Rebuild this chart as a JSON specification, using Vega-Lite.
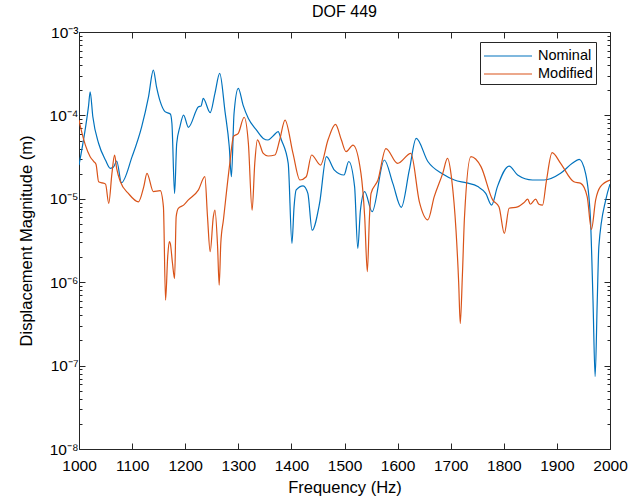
{
  "$schema": "https://vega.github.io/schema/vega-lite/v6.json",
  "width": 531,
  "height": 417,
  "autosize": {"type": "none"},
  "padding": {"left": 79, "top": 32, "right": 20, "bottom": 53},
  "background": "white",
  "title": {"text": "DOF 449", "font": "Liberation Sans", "fontSize": 16, "fontWeight": "normal", "color": "black", "offset": 5},
  "config": {
    "view": {"stroke": null},
    "axis": {"labelFont": "Liberation Sans", "titleFont": "Liberation Sans", "labelColor": "black", "titleColor": "black", "domainColor": "#262626", "tickColor": "#262626", "tickWidth": 1, "ticks": true, "grid": false, "labelFontSize": 15.5, "titleFontSize": 16.5, "titleFontWeight": "normal"}
  },
  "datasets": {
    "curves": [
      {"f": 1000, "v": 2.54e-5, "s": "Nominal"},
      {"f": 1012, "v": 7e-5, "s": "Nominal"},
      {"f": 1018, "v": 1.3e-4, "s": "Nominal"},
      {"f": 1021, "v": 1.92e-4, "s": "Nominal"},
      {"f": 1026, "v": 9.7e-5, "s": "Nominal"},
      {"f": 1037, "v": 4.6e-5, "s": "Nominal"},
      {"f": 1050, "v": 2.9e-5, "s": "Nominal"},
      {"f": 1059, "v": 2.32e-5, "s": "Nominal"},
      {"f": 1065, "v": 2.4e-5, "s": "Nominal"},
      {"f": 1071, "v": 2.84e-5, "s": "Nominal"},
      {"f": 1080, "v": 1.56e-5, "s": "Nominal"},
      {"f": 1100, "v": 3.2e-5, "s": "Nominal"},
      {"f": 1118, "v": 7.3e-5, "s": "Nominal"},
      {"f": 1131, "v": 1.68e-4, "s": "Nominal"},
      {"f": 1140, "v": 3.5e-4, "s": "Nominal"},
      {"f": 1146, "v": 2.2e-4, "s": "Nominal"},
      {"f": 1153, "v": 1.46e-4, "s": "Nominal"},
      {"f": 1162, "v": 1.11e-4, "s": "Nominal"},
      {"f": 1172, "v": 1.04e-4, "s": "Nominal"},
      {"f": 1175, "v": 8e-5, "s": "Nominal"},
      {"f": 1180, "v": 1.16e-5, "s": "Nominal"},
      {"f": 1184, "v": 4.6e-5, "s": "Nominal"},
      {"f": 1190, "v": 7.3e-5, "s": "Nominal"},
      {"f": 1197, "v": 1.01e-4, "s": "Nominal"},
      {"f": 1206, "v": 7.2e-5, "s": "Nominal"},
      {"f": 1225, "v": 1.27e-4, "s": "Nominal"},
      {"f": 1230, "v": 1.3e-4, "s": "Nominal"},
      {"f": 1234, "v": 1.6e-4, "s": "Nominal"},
      {"f": 1247, "v": 1.08e-4, "s": "Nominal"},
      {"f": 1256, "v": 1.84e-4, "s": "Nominal"},
      {"f": 1265, "v": 3.19e-4, "s": "Nominal"},
      {"f": 1275, "v": 1.11e-4, "s": "Nominal"},
      {"f": 1283, "v": 4.2e-5, "s": "Nominal"},
      {"f": 1287, "v": 1.84e-5, "s": "Nominal"},
      {"f": 1292, "v": 1.06e-4, "s": "Nominal"},
      {"f": 1300, "v": 2.11e-4, "s": "Nominal"},
      {"f": 1309, "v": 1.33e-4, "s": "Nominal"},
      {"f": 1319, "v": 9.2e-5, "s": "Nominal"},
      {"f": 1334, "v": 6.7e-5, "s": "Nominal"},
      {"f": 1347, "v": 5.3e-5, "s": "Nominal"},
      {"f": 1356, "v": 5.07e-5, "s": "Nominal"},
      {"f": 1366, "v": 5.7e-5, "s": "Nominal"},
      {"f": 1375, "v": 6.4e-5, "s": "Nominal"},
      {"f": 1381, "v": 5.1e-5, "s": "Nominal"},
      {"f": 1394, "v": 2.66e-5, "s": "Nominal"},
      {"f": 1401, "v": 2.92e-6, "s": "Nominal"},
      {"f": 1405, "v": 8e-6, "s": "Nominal"},
      {"f": 1409, "v": 1.28e-5, "s": "Nominal"},
      {"f": 1422, "v": 1.43e-5, "s": "Nominal"},
      {"f": 1431, "v": 1.16e-5, "s": "Nominal"},
      {"f": 1439, "v": 4.2e-6, "s": "Nominal"},
      {"f": 1453, "v": 8.8e-6, "s": "Nominal"},
      {"f": 1466, "v": 3.2e-5, "s": "Nominal"},
      {"f": 1481, "v": 2.21e-5, "s": "Nominal"},
      {"f": 1499, "v": 1.93e-5, "s": "Nominal"},
      {"f": 1508, "v": 2.8e-5, "s": "Nominal"},
      {"f": 1519, "v": 1.4e-5, "s": "Nominal"},
      {"f": 1525, "v": 2.55e-6, "s": "Nominal"},
      {"f": 1530, "v": 7.3e-6, "s": "Nominal"},
      {"f": 1538, "v": 1.22e-5, "s": "Nominal"},
      {"f": 1552, "v": 7e-6, "s": "Nominal"},
      {"f": 1575, "v": 2.92e-5, "s": "Nominal"},
      {"f": 1591, "v": 1.53e-5, "s": "Nominal"},
      {"f": 1607, "v": 7.9e-6, "s": "Nominal"},
      {"f": 1622, "v": 2.2e-5, "s": "Nominal"},
      {"f": 1635, "v": 5.3e-5, "s": "Nominal"},
      {"f": 1657, "v": 2.8e-5, "s": "Nominal"},
      {"f": 1685, "v": 1.98e-5, "s": "Nominal"},
      {"f": 1707, "v": 1.68e-5, "s": "Nominal"},
      {"f": 1730, "v": 1.55e-5, "s": "Nominal"},
      {"f": 1751, "v": 1.4e-5, "s": "Nominal"},
      {"f": 1766, "v": 1.16e-5, "s": "Nominal"},
      {"f": 1777, "v": 8.4e-6, "s": "Nominal"},
      {"f": 1788, "v": 1.4e-5, "s": "Nominal"},
      {"f": 1810, "v": 2.47e-5, "s": "Nominal"},
      {"f": 1826, "v": 1.93e-5, "s": "Nominal"},
      {"f": 1854, "v": 1.68e-5, "s": "Nominal"},
      {"f": 1876, "v": 1.68e-5, "s": "Nominal"},
      {"f": 1907, "v": 2.02e-5, "s": "Nominal"},
      {"f": 1929, "v": 2.66e-5, "s": "Nominal"},
      {"f": 1942, "v": 2.97e-5, "s": "Nominal"},
      {"f": 1954, "v": 2.02e-5, "s": "Nominal"},
      {"f": 1963, "v": 6.1e-6, "s": "Nominal"},
      {"f": 1968, "v": 6e-7, "s": "Nominal"},
      {"f": 1972, "v": 7.4e-8, "s": "Nominal"},
      {"f": 1976, "v": 6e-7, "s": "Nominal"},
      {"f": 1979, "v": 2.67e-6, "s": "Nominal"},
      {"f": 1992, "v": 9.7e-6, "s": "Nominal"},
      {"f": 2000, "v": 1.5e-5, "s": "Nominal"},

      {"f": 1000, "v": 8.8e-5, "s": "Modified"},
      {"f": 1006, "v": 6e-5, "s": "Modified"},
      {"f": 1012, "v": 4.4e-5, "s": "Modified"},
      {"f": 1021, "v": 3.2e-5, "s": "Modified"},
      {"f": 1028, "v": 2.79e-5, "s": "Modified"},
      {"f": 1032, "v": 2.6e-5, "s": "Modified"},
      {"f": 1037, "v": 1.6e-5, "s": "Modified"},
      {"f": 1044, "v": 1.55e-5, "s": "Modified"},
      {"f": 1050, "v": 1.5e-5, "s": "Modified"},
      {"f": 1056, "v": 8.8e-6, "s": "Modified"},
      {"f": 1062, "v": 2.0e-5, "s": "Modified"},
      {"f": 1067, "v": 3.35e-5, "s": "Modified"},
      {"f": 1071, "v": 2.3e-5, "s": "Modified"},
      {"f": 1078, "v": 1.6e-5, "s": "Modified"},
      {"f": 1093, "v": 1.16e-5, "s": "Modified"},
      {"f": 1112, "v": 9.2e-6, "s": "Modified"},
      {"f": 1122, "v": 1.4e-5, "s": "Modified"},
      {"f": 1128, "v": 2.02e-5, "s": "Modified"},
      {"f": 1140, "v": 1.22e-5, "s": "Modified"},
      {"f": 1153, "v": 1.25e-5, "s": "Modified"},
      {"f": 1159, "v": 8.0e-6, "s": "Modified"},
      {"f": 1163, "v": 6.1e-7, "s": "Modified"},
      {"f": 1167, "v": 2.0e-6, "s": "Modified"},
      {"f": 1170, "v": 3.06e-6, "s": "Modified"},
      {"f": 1172, "v": 2.9e-6, "s": "Modified"},
      {"f": 1176, "v": 1.7e-6, "s": "Modified"},
      {"f": 1180, "v": 1.11e-6, "s": "Modified"},
      {"f": 1183, "v": 6.1e-6, "s": "Modified"},
      {"f": 1187, "v": 7.7e-6, "s": "Modified"},
      {"f": 1197, "v": 8.4e-6, "s": "Modified"},
      {"f": 1206, "v": 9.7e-6, "s": "Modified"},
      {"f": 1225, "v": 1.28e-5, "s": "Modified"},
      {"f": 1237, "v": 1.84e-5, "s": "Modified"},
      {"f": 1242, "v": 6.1e-6, "s": "Modified"},
      {"f": 1247, "v": 2.32e-6, "s": "Modified"},
      {"f": 1253, "v": 6.1e-6, "s": "Modified"},
      {"f": 1256, "v": 7.3e-6, "s": "Modified"},
      {"f": 1261, "v": 2.67e-6, "s": "Modified"},
      {"f": 1264, "v": 9.2e-7, "s": "Modified"},
      {"f": 1267, "v": 2.9e-6, "s": "Modified"},
      {"f": 1272, "v": 5.6e-6, "s": "Modified"},
      {"f": 1284, "v": 2.66e-5, "s": "Modified"},
      {"f": 1291, "v": 5.6e-5, "s": "Modified"},
      {"f": 1300, "v": 6.1e-5, "s": "Modified"},
      {"f": 1311, "v": 9.5e-5, "s": "Modified"},
      {"f": 1319, "v": 4.6e-5, "s": "Modified"},
      {"f": 1326, "v": 7.3e-6, "s": "Modified"},
      {"f": 1331, "v": 2.66e-5, "s": "Modified"},
      {"f": 1336, "v": 5.1e-5, "s": "Modified"},
      {"f": 1347, "v": 3.5e-5, "s": "Modified"},
      {"f": 1356, "v": 3.26e-5, "s": "Modified"},
      {"f": 1369, "v": 3.35e-5, "s": "Modified"},
      {"f": 1378, "v": 5.1e-5, "s": "Modified"},
      {"f": 1388, "v": 8.8e-5, "s": "Modified"},
      {"f": 1403, "v": 3.5e-5, "s": "Modified"},
      {"f": 1416, "v": 1.68e-5, "s": "Modified"},
      {"f": 1428, "v": 1.84e-5, "s": "Modified"},
      {"f": 1438, "v": 3.35e-5, "s": "Modified"},
      {"f": 1455, "v": 2.54e-5, "s": "Modified"},
      {"f": 1469, "v": 5.1e-5, "s": "Modified"},
      {"f": 1483, "v": 7.8e-5, "s": "Modified"},
      {"f": 1494, "v": 5.1e-5, "s": "Modified"},
      {"f": 1503, "v": 3.67e-5, "s": "Modified"},
      {"f": 1516, "v": 4.4e-5, "s": "Modified"},
      {"f": 1531, "v": 2.02e-5, "s": "Modified"},
      {"f": 1538, "v": 6.1e-6, "s": "Modified"},
      {"f": 1543, "v": 1.34e-6, "s": "Modified"},
      {"f": 1547, "v": 6e-6, "s": "Modified"},
      {"f": 1550, "v": 1.16e-5, "s": "Modified"},
      {"f": 1563, "v": 1.68e-5, "s": "Modified"},
      {"f": 1578, "v": 4.0e-5, "s": "Modified"},
      {"f": 1600, "v": 2.66e-5, "s": "Modified"},
      {"f": 1625, "v": 3.5e-5, "s": "Modified"},
      {"f": 1641, "v": 9.2e-6, "s": "Modified"},
      {"f": 1657, "v": 5.6e-6, "s": "Modified"},
      {"f": 1669, "v": 1.06e-5, "s": "Modified"},
      {"f": 1685, "v": 2.02e-5, "s": "Modified"},
      {"f": 1694, "v": 3.05e-5, "s": "Modified"},
      {"f": 1702, "v": 1.68e-5, "s": "Modified"},
      {"f": 1710, "v": 4.2e-6, "s": "Modified"},
      {"f": 1715, "v": 1e-6, "s": "Modified"},
      {"f": 1718, "v": 3.2e-7, "s": "Modified"},
      {"f": 1722, "v": 1.2e-6, "s": "Modified"},
      {"f": 1726, "v": 6.1e-6, "s": "Modified"},
      {"f": 1738, "v": 3.2e-5, "s": "Modified"},
      {"f": 1757, "v": 2.43e-5, "s": "Modified"},
      {"f": 1779, "v": 9.7e-6, "s": "Modified"},
      {"f": 1791, "v": 8e-6, "s": "Modified"},
      {"f": 1801, "v": 3.85e-6, "s": "Modified"},
      {"f": 1810, "v": 7.7e-6, "s": "Modified"},
      {"f": 1826, "v": 8.0e-6, "s": "Modified"},
      {"f": 1838, "v": 9.0e-6, "s": "Modified"},
      {"f": 1845, "v": 9.9e-6, "s": "Modified"},
      {"f": 1850, "v": 8.6e-6, "s": "Modified"},
      {"f": 1860, "v": 9.9e-6, "s": "Modified"},
      {"f": 1866, "v": 8.6e-6, "s": "Modified"},
      {"f": 1873, "v": 8.4e-6, "s": "Modified"},
      {"f": 1880, "v": 1.6e-5, "s": "Modified"},
      {"f": 1891, "v": 3.57e-5, "s": "Modified"},
      {"f": 1907, "v": 2.66e-5, "s": "Modified"},
      {"f": 1932, "v": 1.6e-5, "s": "Modified"},
      {"f": 1945, "v": 1.53e-5, "s": "Modified"},
      {"f": 1957, "v": 1.06e-5, "s": "Modified"},
      {"f": 1965, "v": 4.3e-6, "s": "Modified"},
      {"f": 1973, "v": 9.7e-6, "s": "Modified"},
      {"f": 1982, "v": 1.4e-5, "s": "Modified"},
      {"f": 2000, "v": 1.68e-5, "s": "Modified"}
    ]
  },
  "data": {"name": "curves"},
  "layer": [
    {
      "mark": {"type": "line", "strokeWidth": 1.2, "interpolate": "monotone", "clip": true},
      "encoding": {
        "x": {"field": "f", "type": "quantitative", "scale": {"domain": [1000, 2000], "nice": false, "zero": false},
          "axis": {"orient": "bottom", "title": "Frequency (Hz)", "values": [1000,1100,1200,1300,1400,1500,1600,1700,1800,1900,2000], "format": "d", "tickSize": -6, "labelPadding": 15, "titlePadding": 6, "labelFlush": false}},
        "y": {"field": "v", "type": "quantitative", "scale": {"type": "log", "domain": [1e-8, 1e-3], "nice": false},
          "axis": {"orient": "left", "title": "Displacement Magnitude (m)", "titlePadding": 15, "labelPadding": 7,
            "values": [1e-8,2e-8,3e-8,4e-8,5e-8,6e-8,7e-8,8e-8,9e-8,1e-7,2e-7,3e-7,4e-7,5e-7,6e-7,7e-7,8e-7,9e-7,1e-6,2e-6,3e-6,4e-6,5e-6,6e-6,7e-6,8e-6,9e-6,1e-5,2e-5,3e-5,4e-5,5e-5,6e-5,7e-5,8e-5,9e-5,1e-4,2e-4,3e-4,4e-4,5e-4,6e-4,7e-4,8e-4,9e-4,1e-3],
            "labelExpr": "abs(log(datum.value)/LN10 - round(log(datum.value)/LN10)) < 0.01 ? '10' + ['⁻⁸','⁻⁷','⁻⁶','⁻⁵','⁻⁴','⁻³'][round(log(datum.value)/LN10)+8] : ''",
            "tickSize": {"condition": {"test": "abs(log(datum.value)/LN10 - round(log(datum.value)/LN10)) < 0.01", "value": -6}, "value": -3}}},
        "color": {"field": "s", "type": "nominal", "scale": {"domain": ["Nominal", "Modified"], "range": ["#0072BD", "#D95319"]},
          "legend": {"title": null, "orient": "none", "legendX": 401, "legendY": 10, "columns": 1, "symbolType": "M-1,0H3.8", "symbolSize": 400, "symbolStrokeWidth": 1.2, "labelFont": "Liberation Sans", "labelFontSize": 14.5, "labelColor": "black", "labelAlign": "left", "labelOffset": 33, "labelExpr": "datum.label + '\u00a0\u00a0'", "strokeColor": "#262626", "fillColor": "white", "padding": 3, "rowPadding": 0, "labelLimit": 200}}
      }
    },
    {
      "mark": {"type": "line", "opacity": 0},
      "encoding": {
        "x": {"field": "f", "type": "quantitative", "axis": {"orient": "top", "title": null, "labels": false, "values": [1000,1100,1200,1300,1400,1500,1600,1700,1800,1900,2000], "tickSize": -6}},
        "y": {"field": "v", "type": "quantitative", "scale": {"type": "log"}, "axis": {"orient": "right", "title": null, "labels": false,
          "values": [1e-8,2e-8,3e-8,4e-8,5e-8,6e-8,7e-8,8e-8,9e-8,1e-7,2e-7,3e-7,4e-7,5e-7,6e-7,7e-7,8e-7,9e-7,1e-6,2e-6,3e-6,4e-6,5e-6,6e-6,7e-6,8e-6,9e-6,1e-5,2e-5,3e-5,4e-5,5e-5,6e-5,7e-5,8e-5,9e-5,1e-4,2e-4,3e-4,4e-4,5e-4,6e-4,7e-4,8e-4,9e-4,1e-3],
          "tickSize": {"condition": {"test": "abs(log(datum.value)/LN10 - round(log(datum.value)/LN10)) < 0.01", "value": -6}, "value": -3}}},
        "detail": {"field": "s"}
      }
    }
  ],
  "resolve": {"axis": {"x": "independent", "y": "independent"}}
}
